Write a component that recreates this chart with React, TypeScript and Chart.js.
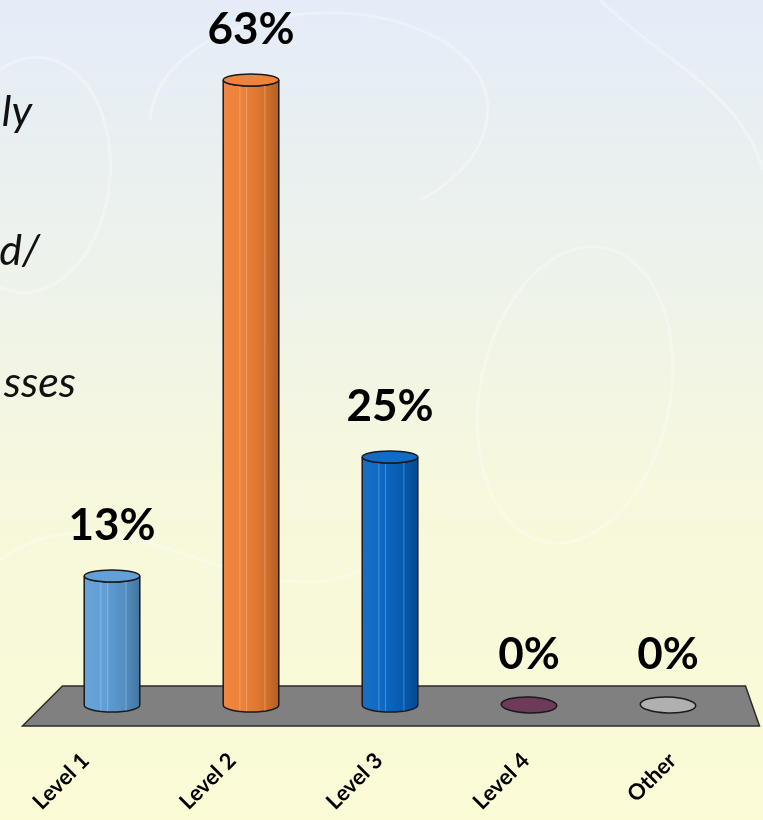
import { useEffect, useRef } from "react";
import { Chart, registerables } from "chart.js";

Chart.register(...registerables);

const categories = ["Level 1", "Level 2", "Level 3", "Level 4", "Other"];
const values = [13, 63, 25, 0, 0];
const valueLabels = ["13%", "63%", "25%", "0%", "0%"];
const barColors = ["#5b9bd5", "#ed7d31", "#0563c1", "#6e3a5a", "#b0b0b0"];
const sideTexts = ["ly", "d/", "sses"];

function shade(hex: string, amt: number): string {
  const n = parseInt(hex.slice(1), 16);
  let r = (n >> 16) & 255, g = (n >> 8) & 255, b = n & 255;
  if (amt >= 0) {
    r = r + (255 - r) * amt; g = g + (255 - g) * amt; b = b + (255 - b) * amt;
  } else {
    r = r * (1 + amt); g = g * (1 + amt); b = b * (1 + amt);
  }
  return `rgb(${Math.round(r)},${Math.round(g)},${Math.round(b)})`;
}

const backgroundPlugin = {
  id: "bgSlide",
  beforeDraw(chart: any) {
    const { ctx, width, height } = chart;
    ctx.save();
    const g = ctx.createLinearGradient(0, 0, 0, height);
    g.addColorStop(0, "#e4ecf8");
    g.addColorStop(0.35, "#eef3ea");
    g.addColorStop(0.6, "#f7f8dc");
    g.addColorStop(1, "#fbfbd6");
    ctx.fillStyle = g;
    ctx.fillRect(0, 0, width, height);
    // faint swirls
    ctx.strokeStyle = "rgba(255,255,255,0.3)";
    ctx.lineWidth = 3;
    ctx.beginPath();
    ctx.ellipse(30, 175, 80, 118, 0.1, 0, Math.PI * 2);
    ctx.stroke();
    ctx.beginPath();
    ctx.moveTo(150, 120);
    ctx.bezierCurveTo(160, 20, 330, -10, 420, 30);
    ctx.bezierCurveTo(520, 70, 500, 160, 420, 200);
    ctx.stroke();
    ctx.beginPath();
    ctx.ellipse(575, 395, 95, 150, 0.2, 0, Math.PI * 2);
    ctx.stroke();
    ctx.beginPath();
    ctx.moveTo(0, 560);
    ctx.bezierCurveTo(120, 470, 260, 640, 380, 560);
    ctx.stroke();
    ctx.beginPath();
    ctx.moveTo(600, 0);
    ctx.bezierCurveTo(660, 60, 740, 90, 763, 170);
    ctx.stroke();
    // cut-off slide text at left
    ctx.fillStyle = "#111";
    ctx.font = 'italic 43px "Lato"';
    ctx.textAlign = "right";
    ctx.textBaseline = "alphabetic";
    const ends = [32, 40, 76];
    const bases = [126, 265, 397];
    sideTexts.forEach((t, i) => ctx.fillText(t, ends[i], bases[i]));
    ctx.restore();
  },
  beforeDatasetsDraw(chart: any) {
    const { ctx, chartArea } = chart;
    const base = chart.scales.y.getPixelForValue(0);
    ctx.save();
    ctx.beginPath();
    ctx.moveTo(chartArea.left + 20, base - 19);
    ctx.lineTo(chartArea.right + 8, base - 19);
    ctx.lineTo(chartArea.right + 22, base + 21);
    ctx.lineTo(chartArea.left - 20, base + 21);
    ctx.closePath();
    ctx.fillStyle = "#808080";
    ctx.fill();
    ctx.strokeStyle = "#2b2b2b";
    ctx.lineWidth = 1.5;
    ctx.stroke();
    ctx.restore();
  },
  afterDatasetsDraw(chart: any) {
    const { ctx, chartArea } = chart;
    const meta = chart.getDatasetMeta(0);
    const xs = chart.scales.x;
    const mid = (chartArea.left + chartArea.right) / 2;
    ctx.save();
    meta.data.forEach((bar: any, i: number) => {
      const x = bar.x;
      const top = bar.y;
      const base = bar.base;
      const rx = bar.width / 2;
      const color = barColors[i];
      ctx.strokeStyle = "#1a1a1a";
      ctx.lineWidth = 1.5;
      if (base - top < 1) {
        ctx.beginPath();
        ctx.ellipse(x, base, rx, 8, 0.03, 0, Math.PI * 2);
        ctx.fillStyle = color;
        ctx.fill();
        ctx.stroke();
      } else {
        const ry = 6;
        const g = ctx.createLinearGradient(x - rx, 0, x + rx, 0);
        g.addColorStop(0, shade(color, 0.08));
        g.addColorStop(0.35, shade(color, 0.04));
        g.addColorStop(0.75, shade(color, -0.1));
        g.addColorStop(1, shade(color, -0.25));
        ctx.beginPath();
        ctx.moveTo(x - rx, top);
        ctx.lineTo(x - rx, base);
        ctx.ellipse(x, base, rx, ry + 1, 0, Math.PI, 0, true);
        ctx.lineTo(x + rx, top);
        ctx.ellipse(x, top, rx, ry, 0, 0, Math.PI, false);
        ctx.closePath();
        ctx.fillStyle = g;
        ctx.fill();
        ctx.stroke();
        // faint vertical highlights
        ctx.strokeStyle = "rgba(255,255,255,0.25)";
        ctx.lineWidth = 1;
        [0.3, 0.42, 0.75].forEach((f) => {
          ctx.beginPath();
          ctx.moveTo(x - rx + f * 2 * rx, top + ry);
          ctx.lineTo(x - rx + f * 2 * rx, base + ry);
          ctx.stroke();
        });
        ctx.beginPath();
        ctx.ellipse(x, top, rx, ry, 0, 0, Math.PI * 2);
        ctx.fillStyle = shade(color, 0.05);
        ctx.fill();
        ctx.strokeStyle = "#1a1a1a";
        ctx.lineWidth = 1.5;
        ctx.stroke();
      }
      // value label
      ctx.fillStyle = "#000";
      ctx.font = 'bold 44px "Lato"';
      ctx.textAlign = "center";
      ctx.textBaseline = "middle";
      ctx.fillText(valueLabels[i], x, top - 50);
    });
    // category labels
    ctx.font = 'bold 22px "Lato"';
    ctx.textAlign = "right";
    ctx.textBaseline = "middle";
    categories.forEach((lab, i) => {
      const tx = xs.getPixelForTick(i);
      const ax = tx + (tx - mid) * 0.056 - 11;
      ctx.save();
      ctx.translate(ax, 757);
      ctx.rotate((-45 * Math.PI) / 180);
      ctx.fillStyle = "#000";
      ctx.fillText(String(lab), 0, 0);
      ctx.restore();
    });
    ctx.restore();
  },
};

export default function App() {
  const ref = useRef<HTMLCanvasElement | null>(null);
  useEffect(() => {
    if (!ref.current) return;
    const chart = new Chart(ref.current, {
      type: "bar",
      data: {
        labels: categories,
        datasets: [
          {
            data: values,
            backgroundColor: "rgba(0,0,0,0)",
            borderWidth: 0,
            barPercentage: 0.4,
            categoryPercentage: 1,
          },
        ],
      },
      options: {
        responsive: false,
        animation: false,
        devicePixelRatio: 1,
        layout: { padding: { left: 42.5, right: 25.5, top: 10.6, bottom: 115 } },
        plugins: { legend: { display: false }, tooltip: { enabled: false } },
        scales: {
          x: { display: false },
          y: { display: false, min: 0, max: 70 },
        },
      },
      plugins: [backgroundPlugin],
    });
    return () => chart.destroy();
  }, []);
  return (
    <div style={{ position: "fixed", left: 0, top: 0, width: 763, height: 820 }}>
      <canvas ref={ref} width={763} height={820} />
    </div>
  );
}
